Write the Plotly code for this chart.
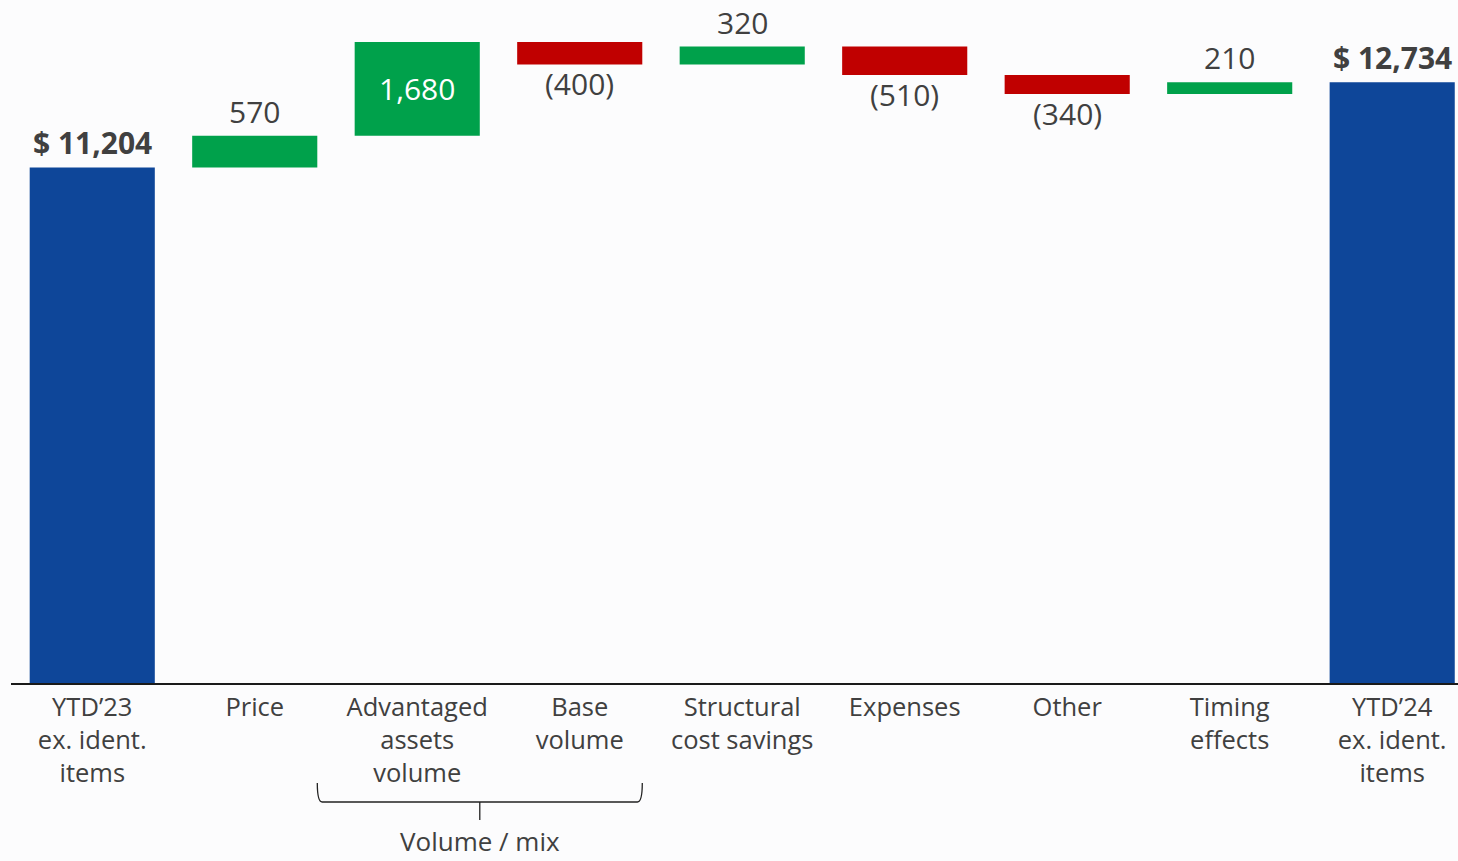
import plotly.graph_objects as go

categories = ["YTD’23<br>ex. ident.<br>items", "Price", "Advantaged<br>assets<br>volume",
              "Base<br>volume", "Structural<br>cost savings", "Expenses", "Other",
              "Timing<br>effects", "YTD’24<br>ex. ident.<br>items"]
values = [11204, 570, 1680, -400, 320, -510, -340, 210, 12734]
measures = ["absolute", "relative", "relative", "relative", "relative",
            "relative", "relative", "relative", "total"]
value_labels = ["$ 11,204", "570", "1,680", "(400)", "320", "(510)", "(340)", "210", "$ 12,734"]
group_label = "Volume / mix"

BLUE = "#0E4699"
GREEN = "#00A14B"
RED = "#C00000"
TEXT = "#404040"
FONT = "Open Sans"

x = list(range(len(categories)))

fig = go.Figure()
fig.add_trace(go.Waterfall(
    x=x, y=values, measure=measures,
    increasing=dict(marker=dict(color=GREEN)),
    decreasing=dict(marker=dict(color=RED)),
    totals=dict(marker=dict(color=BLUE)),
    connector=dict(visible=False),
    width=[0.77] * len(x),
    hoverinfo="skip",
))

# value labels
running = 0
for i, (v, m, lab) in enumerate(zip(values, measures, value_labels)):
    if m == "absolute":
        running = v
        fig.add_annotation(x=i, y=v, text=f"<b>{lab}</b>", showarrow=False,
                           yanchor="bottom", yshift=2,
                           font=dict(family=FONT, size=30, color=TEXT))
    elif m == "total":
        fig.add_annotation(x=i, y=running, text=f"<b>{lab}</b>", showarrow=False,
                           yanchor="bottom", yshift=2,
                           font=dict(family=FONT, size=30, color=TEXT))
    else:
        start, end = running, running + v
        running = end
        if v >= 1000:
            fig.add_annotation(x=i, y=(start + end) / 2, text=lab, showarrow=False,
                               yanchor="middle",
                               font=dict(family=FONT, size=30, color="white"))
        elif v > 0:
            fig.add_annotation(x=i, y=end, text=lab, showarrow=False,
                               yanchor="bottom", yshift=2,
                               font=dict(family=FONT, size=30, color=TEXT))
        else:
            fig.add_annotation(x=i, y=end, text=lab, showarrow=False,
                               yanchor="top", yshift=3,
                               font=dict(family=FONT, size=30, color=TEXT))

# bracket for Volume / mix group
bl, br, bc = 1.385, 3.385, 2.385
ytop, ymid, ybot = -0.1464, -0.1742, -0.2006
fig.add_shape(type="path", xref="x", yref="paper",
              path=f"M {bl},{ytop} Q {bl},{ymid} {bl + 0.03},{ymid} L {br - 0.03},{ymid} "
                   f"Q {br},{ymid} {br},{ytop} "
                   f"M {bc},{ymid} L {bc},{ybot}",
              line=dict(color="#222222", width=1.3))
fig.add_annotation(x=bc, y=-0.2315, xref="x", yref="paper", text=group_label,
                   showarrow=False, yanchor="middle",
                   font=dict(family=FONT, size=26, color=TEXT))

fig.update_layout(
    width=1458, height=861,
    margin=dict(l=11, r=0, t=0, b=178),
    paper_bgcolor="#fcfcfd", plot_bgcolor="rgba(0,0,0,0)",
    showlegend=False,
    xaxis=dict(range=[-0.5, 8.405], tickvals=x, ticktext=categories,
               showline=True, linecolor="#1a1a1a", linewidth=2,
               showgrid=False, zeroline=False, ticks="",
               tickfont=dict(family=FONT, size=25.5, color=TEXT)),
    yaxis=dict(range=[1950, 14210], visible=False, showgrid=False, zeroline=False),
)

fig.write_html("out.html", config={"displayModeBar": False},
               post_script="document.body.style.margin='0px';document.body.style.overflow='hidden';")
